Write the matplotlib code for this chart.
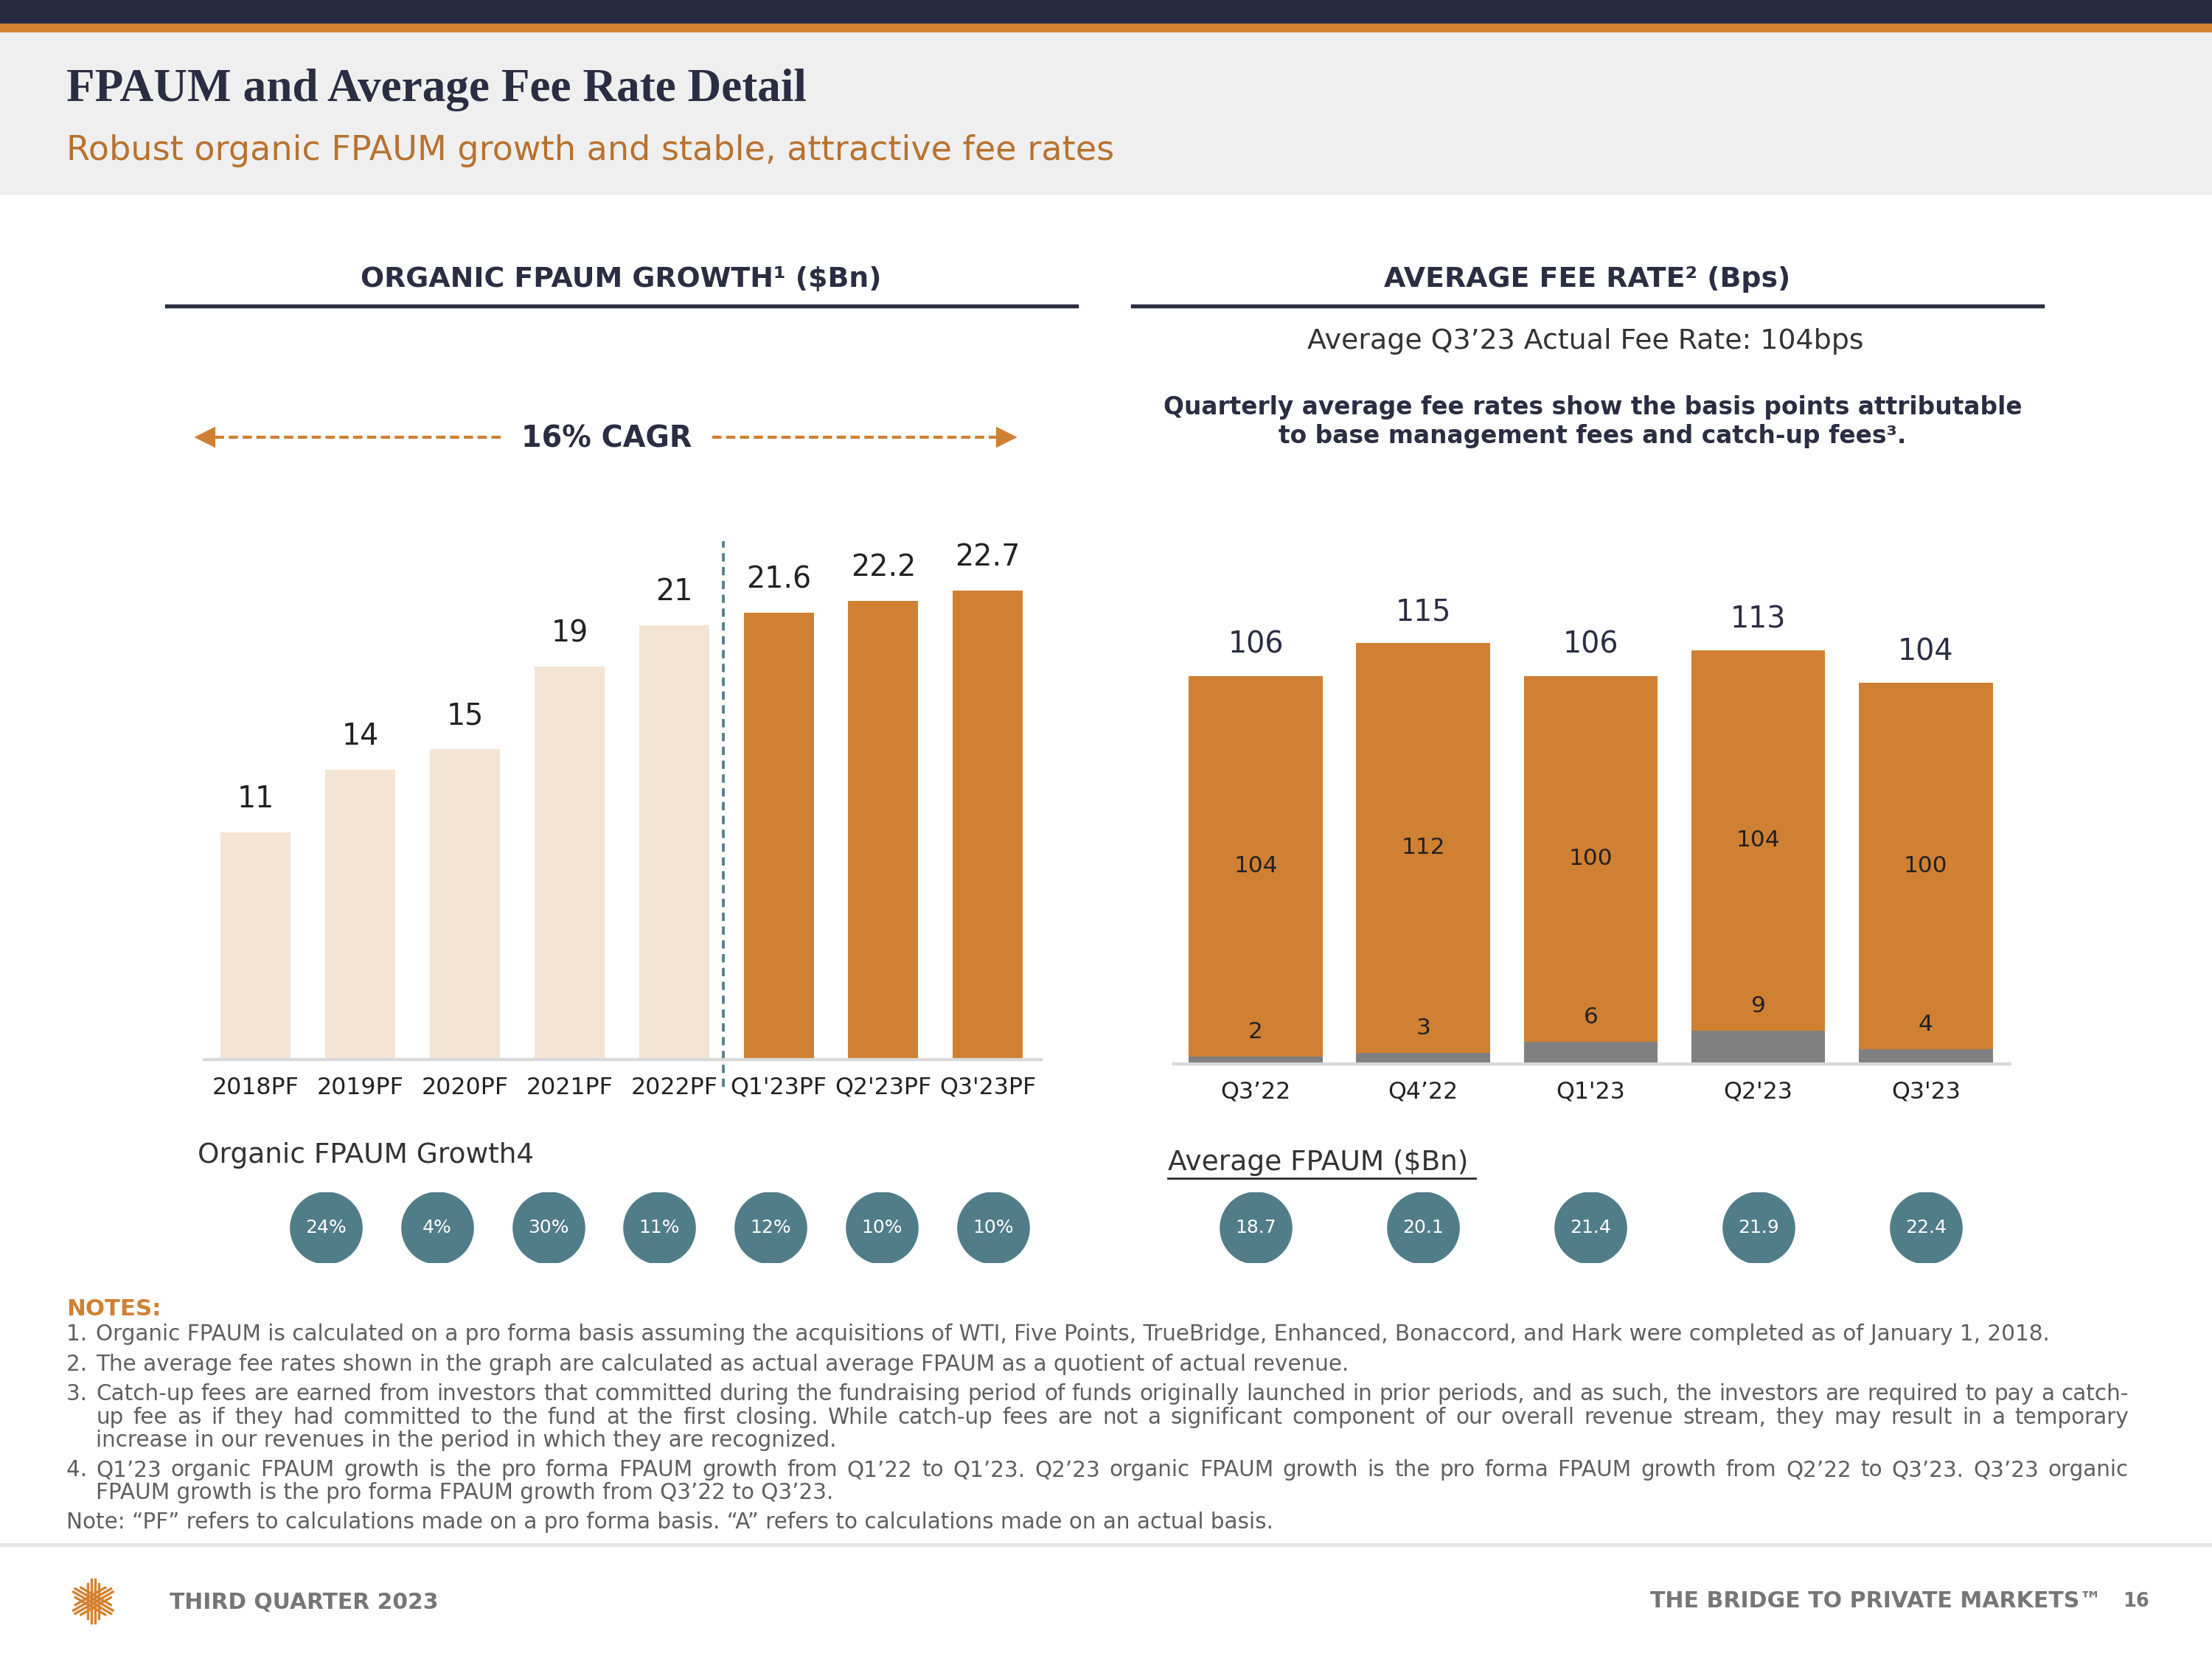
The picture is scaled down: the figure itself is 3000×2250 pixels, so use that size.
import matplotlib.pyplot as plt
import numpy as np
from matplotlib.lines import Line2D
from matplotlib.patches import Rectangle

# ---- data ----
growth_labels = ['2018PF', '2019PF', '2020PF', '2021PF', '2022PF', "Q1'23PF", "Q2'23PF", "Q3'23PF"]
growth_values = [11, 14, 15, 19, 21, 21.6, 22.2, 22.7]
growth_text = ['11', '14', '15', '19', '21', '21.6', '22.2', '22.7']
organic_growth_pct = ['24%', '4%', '30%', '11%', '12%', '10%', '10%']

fee_quarters = ['Q3’22', 'Q4’22', "Q1'23", "Q2'23", "Q3'23"]
catchup_fees = [2, 3, 6, 9, 4]
base_fees = [104, 112, 100, 104, 100]
avg_fpaum = [18.7, 20.1, 21.4, 21.9, 22.4]

notes = [
    ("1. ", "Organic FPAUM is calculated on a pro forma basis assuming the acquisitions of WTI, Five Points, TrueBridge, Enhanced, Bonaccord, and Hark were completed as of January 1, 2018.", False),
    ("2. ", "The average fee rates shown in the graph are calculated as actual average FPAUM as a quotient of actual revenue.", False),
    ("3. ", "Catch-up fees are earned from investors that committed during the fundraising period of funds originally launched in prior periods, and as such, the investors are required to pay a catch-", True),
    ("", "up fee as if they had committed to the fund at the first closing. While catch-up fees are not a significant component of our overall revenue stream, they may result in a temporary", True),
    ("", "increase in our revenues in the period in which they are recognized.", False),
    ("4. ", "Q1’23 organic FPAUM growth is the pro forma FPAUM growth from Q1’22 to Q1’23. Q2’23 organic FPAUM growth is the pro forma FPAUM growth from Q2’22 to Q3’23. Q3’23 organic", True),
    ("", "FPAUM growth is the pro forma FPAUM growth from Q3’22 to Q3’23.", False),
]
notes_y = [946, 967, 988, 1005, 1021, 1042, 1058]
note_pf = "Note: “PF” refers to calculations made on a pro forma basis. “A” refers to calculations made on an actual basis."

NAVY = '#2b2d42'
ORANGE = '#d08033'
PEACH = '#f3e4d4'
TEAL = '#517d88'
GRAY = '#808080'
TXT = '#333333'
NOTE = '#5f5f5f'
NOTE_FS = 7.1

plt.rcParams['font.family'] = ['DejaVu Sans']

W, H = 1568, 1176
fig = plt.figure(figsize=(10, 7.5), dpi=300)


def fx(x):
    return x / W


def fy(y):
    return 1 - y / H


def txt(x, y, s, **kw):
    kw.setdefault('va', 'center')
    return fig.text(fx(x), fy(y), s, **kw)


# ---- page decoration ----
fig.add_artist(Rectangle((0, fy(18)), 1, 18 / H, transform=fig.transFigure, color='#272b42', zorder=0))
fig.add_artist(Rectangle((0, fy(24)), 1, 6 / H, transform=fig.transFigure, color='#d3822f', zorder=0))
fig.add_artist(Rectangle((0, fy(137)), 1, 113 / H, transform=fig.transFigure, color='#efefef', zorder=0))
fig.add_artist(Line2D([0, 1], [fy(1095), fy(1095)], transform=fig.transFigure, color='#e4e4e4', lw=1.2))

txt(47, 64, 'FPAUM and Average Fee Rate Detail', family='Liberation Serif', weight='bold',
    fontsize=15.2, color=NAVY)
txt(47, 107, 'Robust organic FPAUM growth and stable, attractive fee rates', fontsize=11.07,
    color='#b8722f')

# section headers
txt(440, 198, 'ORGANIC FPAUM GROWTH¹ ($Bn)', weight='bold', fontsize=9.1, color=NAVY, ha='center')
fig.add_artist(Line2D([fx(118), fx(763)], [fy(217), fy(217)], transform=fig.transFigure, color=NAVY, lw=1.3))
txt(1125, 198, 'AVERAGE FEE RATE² (Bps)', weight='bold', fontsize=9.1, color=NAVY, ha='center')
fig.add_artist(Line2D([fx(803), fx(1448)], [fy(217), fy(217)], transform=fig.transFigure, color=NAVY, lw=1.3))

txt(1124, 242, 'Average Q3’23 Actual Fee Rate: 104bps', fontsize=9.1, color=TXT, ha='center')
txt(1129, 299, 'Quarterly average fee rates show the basis points attributable\nto base management fees and catch-up fees³.',
    fontsize=7.9, weight='bold', color=NAVY, ha='center', linespacing=1.2)

# CAGR arrows
txt(430, 311, '16% CAGR', weight='bold', fontsize=9.5, color=NAVY, ha='center')
for x0, x1, m in [(355, 146, '<'), (505, 713, '>')]:
    fig.add_artist(Line2D([fx(x0), fx(x1)], [fy(310), fy(310)], transform=fig.transFigure,
                          color=ORANGE, lw=1.0, ls=(0, (3, 1.5))))
    fig.add_artist(Line2D([fx(x1)], [fy(310)], transform=fig.transFigure, marker=m,
                          color=ORANGE, markersize=5.5, lw=0))

# ---- left chart: organic FPAUM growth ----
axL = fig.add_axes([fx(145), fy(751), (738 - 145) / W, (751 - 380) / H])
xs = np.arange(len(growth_values))
bar_colors = [PEACH] * 5 + [ORANGE] * 3
axL.bar(xs, growth_values, width=0.67, color=bar_colors)
axL.set_xlim(-0.49, 7.51)
axL.set_ylim(0, (751 - 380) / 14.65)
for x, v, t in zip(xs, growth_values, growth_text):
    axL.annotate(t, (x, v), xytext=(0, 10.8), textcoords='offset points', ha='center', va='center',
                 fontsize=9.5, color='#222222')
axL.axvline(4.47, ymin=-0.052, ymax=0.99, color=TEAL, lw=0.9, ls=(0, (3, 2)), clip_on=False)

# ---- right chart: average fee rate ----
axR = fig.add_axes([fx(832), fy(754), (1425 - 832) / W, (754 - 380) / H])
xr = np.arange(len(fee_quarters))
totals = [c + b for c, b in zip(catchup_fees, base_fees)]
axR.bar(xr, catchup_fees, width=0.8, color=GRAY)
axR.bar(xr, base_fees, width=0.8, bottom=catchup_fees, color=ORANGE)
axR.set_xlim(-0.49, 4.505)
axR.set_ylim(0, (754 - 380) / 2.594)
for x, c, b, t in zip(xr, catchup_fees, base_fees, totals):
    axR.annotate(str(t), (x, t), xytext=(0, 10), textcoords='offset points', ha='center', va='center',
                 fontsize=9.5, color=NAVY)
    axR.text(x, c + b / 2, str(b), ha='center', va='center', fontsize=7.5, color='#222222')
    axR.annotate(str(c), (x, c), xytext=(0, 8), textcoords='offset points', ha='center', va='center',
                 fontsize=7.5, color='#222222')

for ax, labels in [(axL, growth_labels), (axR, fee_quarters)]:
    for s in ['top', 'left', 'right']:
        ax.spines[s].set_visible(False)
    ax.spines['bottom'].set_color('#d9d9d9')
    ax.spines['bottom'].set_linewidth(1.0)
    ax.set_yticks([])
    ax.set_xticks(np.arange(len(labels)), labels)
    ax.tick_params(axis='x', length=0, pad=5.5, labelsize=7.6, labelcolor='#222222')

# ---- bubbles ----
txt(140, 819, 'Organic FPAUM Growth4', fontsize=9, color=TXT)
axB = fig.add_axes([fx(200), fy(895), (735 - 200) / W, 50 / H])
bx = np.arange(len(organic_growth_pct))
axB.scatter(bx, np.full(len(bx), 0.5), s=560, color=TEAL, lw=0)
for x, t in zip(bx, organic_growth_pct):
    axB.text(x, 0.5, t, ha='center', va='center', fontsize=6, color='white')
axB.set_xlim(-0.393, 6.393)
axB.set_ylim(0, 1)
axB.axis('off')

txt(828, 824, 'Average FPAUM ($Bn)', fontsize=9, color=TXT)
fig.add_artist(Line2D([fx(828), fx(1046)], [fy(835), fy(835)], transform=fig.transFigure, color=TXT, lw=0.7))
axF = fig.add_axes([fx(832), fy(895), (1425 - 832) / W, 50 / H])
axF.scatter(xr, np.full(len(xr), 0.5), s=560, color=TEAL, lw=0)
for x, v in zip(xr, avg_fpaum):
    axF.text(x, 0.5, f'{v:.1f}', ha='center', va='center', fontsize=6, color='white')
axF.set_xlim(-0.49, 4.505)
axF.set_ylim(0, 1)
axF.axis('off')

# ---- notes ----
txt(47, 928, 'NOTES:', fontsize=7.4, weight='bold', color=ORANGE)
fig.canvas.draw()
renderer = fig.canvas.get_renderer()
right_edge = 1509
for (num, body, justify), y in zip(notes, notes_y):
    if num:
        txt(47, y, num, fontsize=NOTE_FS, color=NOTE)
    if not justify:
        txt(68, y, body, fontsize=NOTE_FS, color=NOTE)
        continue
    words = body.split(' ')
    widths = []
    for w in words:
        t = txt(0, y, w, fontsize=NOTE_FS, color=NOTE)
        bb = t.get_window_extent(renderer)
        widths.append(bb.width / fig.bbox.width * W)
        t.remove()
    gap = (right_edge - 68 - sum(widths)) / (len(words) - 1)
    x = 68
    for w, wd in zip(words, widths):
        txt(x, y, w, fontsize=NOTE_FS, color=NOTE)
        x += wd + gap
txt(47, 1079, note_pf, fontsize=NOTE_FS, color=NOTE)

# ---- footer ----
cx, cy = 66, 1135
for ang in [30, 90, 150]:
    a = np.deg2rad(ang)
    dx, dy = np.cos(a), np.sin(a)
    px, py = -dy, dx
    for off in [-4, -1.3, 1.3, 4]:
        L = 17 - abs(off) * 1.2
        xa = cx + off * px - L * dx
        xb = cx + off * px + L * dx
        ya = cy + off * py - L * dy
        yb = cy + off * py + L * dy
        fig.add_artist(Line2D([fx(xa), fx(xb)], [fy(ya), fy(yb)], transform=fig.transFigure,
                              color='#d3822f', lw=0.8))
txt(120, 1136, 'THIRD QUARTER 2023', fontsize=7.15, weight='bold', color='#767676')
txt(1490, 1135, 'THE BRIDGE TO PRIVATE MARKETS™', fontsize=7.2, weight='bold', color='#767676', ha='right')
txt(1505, 1135, '16', fontsize=6.2, weight='bold', color='#767676')

fig.savefig('out.png', dpi=300)
